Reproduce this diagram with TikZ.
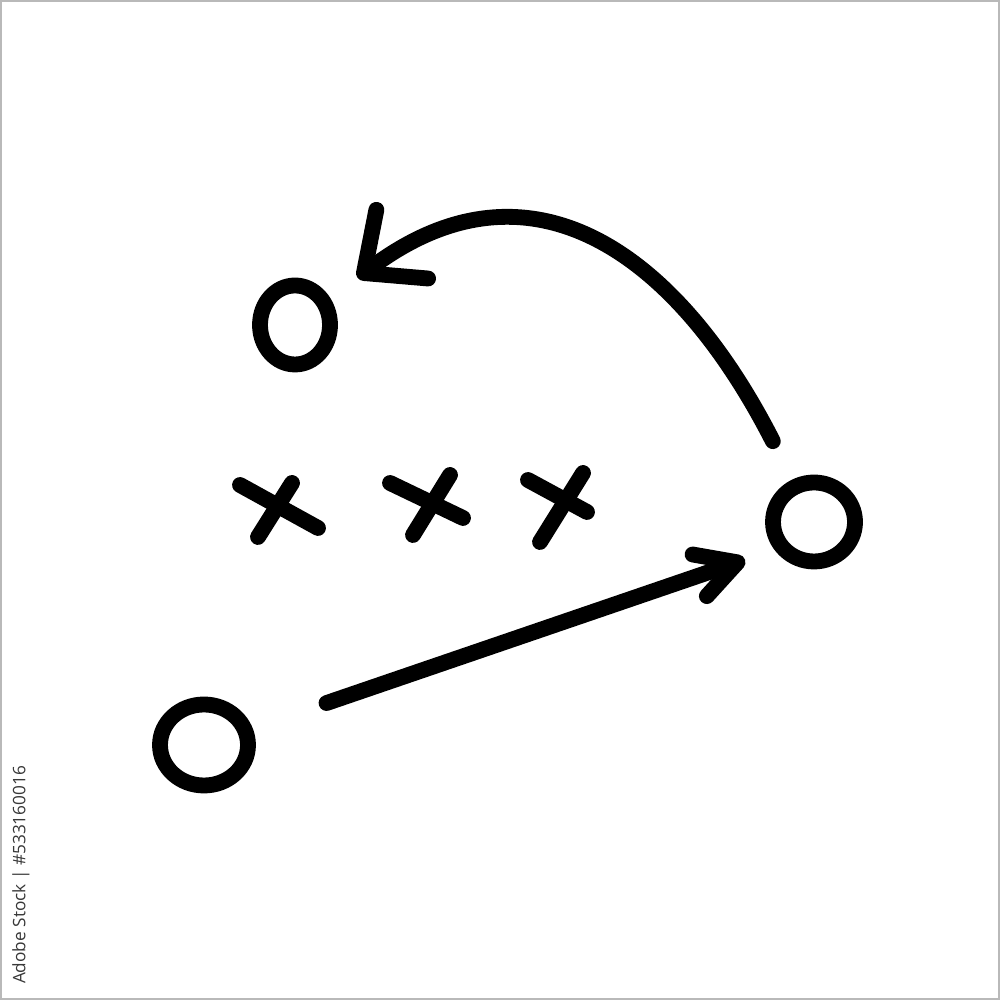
\documentclass[tikz,border=0pt]{standalone}
\usepackage{fontspec}
\setmainfont{Open Sans}
\usetikzlibrary{arrows.meta,shapes.geometric}
\begin{document}
\begin{tikzpicture}[player/.style={draw, ellipse, line width=4.5pt, inner sep=0pt},
        route/.style={line width=4.5pt, line cap=round, line join=round},
        pass/.style={route, -{Straight Barb[round, length=#1]}}]
            \useasboundingbox (0,0) rectangle (10,10);
            \draw[gray!55, line width=0.6pt] (0.01,0.01) rectangle (9.99,9.99);

            \node[player, minimum width=0.70cm, minimum height=0.79cm] (A) at (2.95,6.75) {};
            \node[player, minimum width=0.82cm, minimum height=0.79cm] (B) at (8.14,4.78) {};
            \node[player, minimum width=0.88cm, minimum height=0.81cm] (C) at (2.04,2.55) {};

            % the three x's
            \draw[route] (2.40,5.15) -- (3.18,4.72); \draw[route] (2.58,4.63) -- (2.92,5.17);
            \draw[route] (3.90,5.17) -- (4.63,4.82); \draw[route] (4.13,4.65) -- (4.50,5.25);
            \draw[route] (5.28,5.20) -- (5.87,4.88); \draw[route] (5.40,4.58) -- (5.83,5.27);

            \draw[pass={4mm, width=4.4mm}, shorten <=0.78cm, shorten >=0.31cm] (C) to (B.215);
            \draw[pass={4.8mm, width=8.6mm}, shorten <=0.43cm, shorten >=0.34cm] (B) to[out=117, in=37, looseness=1.3] (A);

            \node[rotate=90, text=black!78, font=\fontsize{4.9}{5}\selectfont] (stockid) at (0.21,1.25) {Adobe Stock | \#533160016};
        \end{tikzpicture}
\end{document}
